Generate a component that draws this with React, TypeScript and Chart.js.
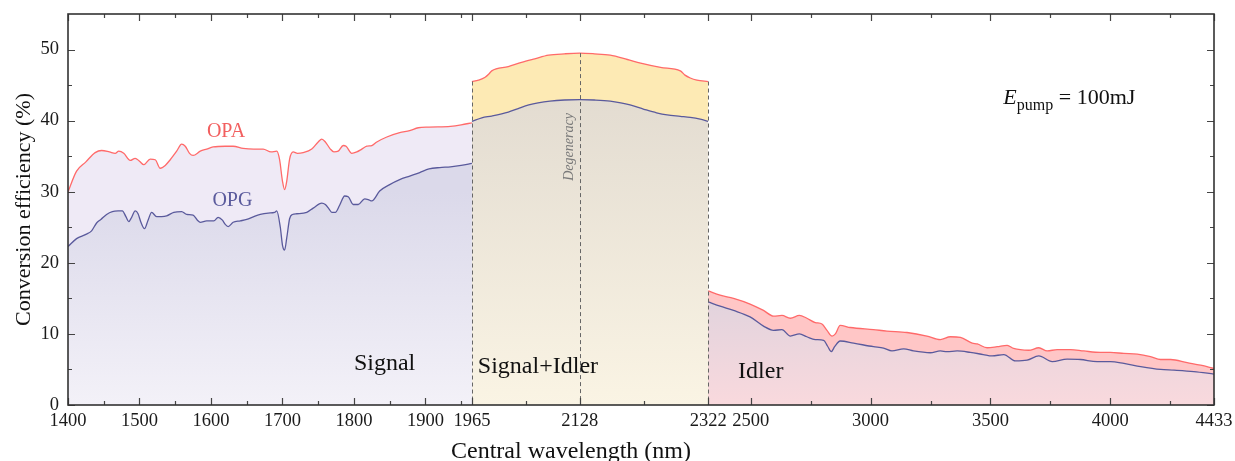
import React, { useEffect, useRef } from 'react';
import { Chart, registerables, LinearScale } from 'chart.js';

// ---------------- data ----------------
const OPA_SIGNAL_WL = [1400, 1412, 1425, 1438, 1447, 1458, 1466, 1471, 1478, 1487, 1494, 1500, 1506, 1515, 1522, 1529, 1536, 1543, 1552, 1559, 1564, 1570, 1575, 1585, 1594, 1603, 1620, 1631, 1645, 1660, 1673, 1684, 1692, 1696, 1700, 1703, 1706, 1710, 1715, 1721, 1729, 1741, 1750, 1755, 1760, 1767, 1772, 1778, 1785, 1789, 1797, 1804, 1811, 1818, 1825, 1832, 1846, 1864, 1878, 1890, 1905, 1935, 1950, 1965];
const OPA_SIGNAL = [30.0, 32.9, 34.2, 35.5, 35.8, 35.6, 35.4, 35.7, 35.4, 34.4, 34.7, 34.3, 33.8, 34.6, 34.5, 33.3, 33.7, 34.5, 35.7, 36.7, 36.4, 35.4, 35.1, 35.7, 36.0, 36.3, 36.4, 36.4, 36.1, 36.0, 36.0, 35.6, 35.7, 34.5, 31.5, 30.3, 31.5, 34.6, 35.6, 35.4, 35.5, 36.0, 37.0, 37.4, 37.0, 36.0, 35.6, 35.7, 36.5, 36.4, 35.4, 35.6, 36.0, 36.4, 36.5, 37.0, 37.7, 38.3, 38.6, 39.0, 39.1, 39.2, 39.4, 39.7];

const OPG_SIGNAL_WL = [1400, 1412, 1425, 1433, 1440, 1446, 1454, 1462, 1470, 1476, 1481, 1485, 1489, 1494, 1498, 1502, 1507, 1512, 1517, 1524, 1531, 1538, 1548, 1559, 1566, 1575, 1581, 1585, 1594, 1604, 1610, 1616, 1620, 1624, 1631, 1641, 1650, 1660, 1669, 1680, 1689, 1692, 1697, 1700, 1703, 1706, 1710, 1714, 1720, 1734, 1743, 1755, 1760, 1765, 1769, 1774, 1780, 1787, 1792, 1799, 1806, 1815, 1820, 1825, 1836, 1850, 1864, 1878, 1892, 1905, 1920, 1935, 1950, 1965];
const OPG_SIGNAL = [22.3, 23.4, 24.0, 24.5, 25.6, 26.1, 26.8, 27.2, 27.3, 27.3, 26.5, 25.8, 26.4, 27.3, 26.9, 25.7, 24.8, 26.0, 27.1, 26.5, 26.5, 26.6, 27.1, 27.2, 26.8, 26.7, 26.0, 25.7, 25.9, 25.9, 26.4, 26.0, 25.4, 25.1, 25.7, 25.9, 26.1, 26.5, 26.8, 27.0, 27.1, 27.3, 25.0, 22.5, 21.8, 23.5, 26.2, 26.8, 26.9, 27.1, 27.7, 28.4, 28.2, 27.6, 27.1, 27.1, 28.1, 29.4, 29.3, 28.2, 28.2, 29.0, 28.9, 28.7, 30.1, 31.0, 31.7, 32.2, 32.7, 33.2, 33.4, 33.5, 33.7, 34.0];

const OPA_MIDDLE_WL = [1965, 1975, 1985, 1991, 1995, 2020, 2040, 2060, 2081, 2105, 2128, 2150, 2174, 2200, 2220, 2250, 2280, 2287, 2295, 2305, 2322];
const OPA_MIDDLE = [45.5, 45.7, 46.1, 46.6, 47.0, 47.6, 48.2, 48.7, 49.2, 49.4, 49.5, 49.4, 49.2, 48.6, 48.1, 47.5, 47.0, 46.4, 46.0, 45.7, 45.5];

const OPG_MIDDLE_WL = [1965, 1980, 1995, 2020, 2035, 2051, 2065, 2083, 2105, 2128, 2150, 2174, 2190, 2204, 2225, 2244, 2260, 2280, 2295, 2310, 2322];
const OPG_MIDDLE = [39.9, 40.4, 40.65, 41.2, 41.7, 42.2, 42.5, 42.75, 42.9, 42.95, 42.9, 42.75, 42.5, 42.2, 41.6, 41.1, 40.8, 40.6, 40.45, 40.2, 39.9];

const OPA_IDLER_WL = [2322, 2372, 2428, 2497, 2553, 2595, 2630, 2665, 2703, 2734, 2769, 2797, 2818, 2839, 2853, 2873, 2915, 3012, 3068, 3152, 3235, 3291, 3333, 3375, 3424, 3445, 3486, 3528, 3570, 3597, 3660, 3702, 3737, 3779, 3834, 3890, 3959, 4001, 4057, 4113, 4168, 4210, 4252, 4321, 4377, 4433];
const OPA_IDLER = [16.05, 15.45, 15.0, 14.2, 13.3, 12.5, 12.6, 12.2, 12.6, 12.2, 11.6, 11.4, 10.5, 9.7, 10.0, 11.2, 10.9, 10.6, 10.4, 10.2, 9.7, 9.2, 9.6, 9.5, 8.7, 8.6, 8.05, 8.2, 8.4, 7.95, 7.7, 8.05, 7.6, 7.8, 7.8, 7.6, 7.4, 7.4, 7.25, 7.15, 6.8, 6.4, 6.4, 5.95, 5.6, 5.15];

const OPG_IDLER_WL = [2322, 2372, 2428, 2497, 2553, 2595, 2630, 2665, 2703, 2734, 2769, 2804, 2820, 2836, 2850, 2873, 2929, 3012, 3054, 3089, 3138, 3179, 3249, 3291, 3319, 3361, 3416, 3470, 3507, 3556, 3604, 3653, 3702, 3758, 3820, 3876, 3945, 4001, 4057, 4127, 4210, 4266, 4349, 4433];
const OPG_IDLER = [14.5, 13.9, 13.3, 12.4, 11.1, 10.5, 10.6, 9.7, 10.0, 9.6, 9.2, 9.1, 8.3, 7.5, 8.2, 9.0, 8.7, 8.2, 8.0, 7.6, 7.9, 7.6, 7.35, 7.6, 7.5, 7.6, 7.4, 7.1, 6.9, 7.1, 6.2, 6.3, 6.9, 6.1, 6.45, 6.4, 6.1, 6.1, 5.85, 5.4, 5.0, 4.9, 4.7, 4.35];

// axis ticks
const X_TICKS = [1400, 1500, 1600, 1700, 1800, 1900, 1965, 2128, 2322, 2500, 3000, 3500, 4000, 4433];
const X_MINOR_TICKS = [1450, 1550, 1650, 1750, 1850, 1950, 2046.5, 2225, 2750, 3250, 3750, 4250];
const Y_TICKS = [0, 10, 20, 30, 40, 50];
const Y_MINOR_TICKS = [5, 15, 25, 35, 45];
const REGION_DIVIDERS = [1965, 2128, 2322];

// axis segmentation (broken wavelength axis)
const AXIS_BREAKS = [1400, 1965, 2322, 4433];
const SEGMENT_LENGTHS = [404, 236.3, 506];

// ---------------- styling ----------------
const FONT = '"Liberation Serif", "Times New Roman", serif';
const OPA_COLOR = '#ff6a6a';
const OPG_COLOR = '#5a5a9c';

function toDecimal(v: number): number {
  const total = SEGMENT_LENGTHS.reduce((a, b) => a + b, 0);
  let acc = 0;
  const n = SEGMENT_LENGTHS.length;
  for (let i = 0; i < n; i++) {
    const a = AXIS_BREAKS[i];
    const b = AXIS_BREAKS[i + 1];
    if (v <= b || i === n - 1) return (acc + ((v - a) / (b - a)) * SEGMENT_LENGTHS[i]) / total;
    acc += SEGMENT_LENGTHS[i];
  }
  return 0;
}
function fromDecimal(d: number): number {
  const total = SEGMENT_LENGTHS.reduce((a, b) => a + b, 0);
  let pos = d * total;
  const n = SEGMENT_LENGTHS.length;
  for (let i = 0; i < n; i++) {
    const len = SEGMENT_LENGTHS[i];
    if (pos <= len || i === n - 1) return AXIS_BREAKS[i] + (pos / len) * (AXIS_BREAKS[i + 1] - AXIS_BREAKS[i]);
    pos -= len;
  }
  return AXIS_BREAKS[0];
}

class SegmentedScale extends LinearScale {
  static id = 'segmented';
  static defaults = {};
  getPixelForValue(value: number) {
    return this.getPixelForDecimal(toDecimal(value));
  }
  getValueForPixel(pixel: number) {
    return fromDecimal(this.getDecimalForPixel(pixel));
  }
}

Chart.register(...registerables, SegmentedScale as any);

function points(wl: number[], vals: number[]) {
  return wl.map((x, i) => ({ x, y: vals[i] }));
}

function interp(wl: number[], vals: number[], x: number) {
  for (let i = 0; i < wl.length - 1; i++) {
    if (x >= wl[i] && x <= wl[i + 1]) {
      const t = (x - wl[i]) / (wl[i + 1] - wl[i]);
      return vals[i] + t * (vals[i + 1] - vals[i]);
    }
  }
  return x < wl[0] ? vals[0] : vals[vals.length - 1];
}

function vGradient(topVal: number, topColor: string, bottomColor: string) {
  return (ctx: any) => {
    const chart = ctx.chart;
    const ys = chart.scales && chart.scales.y;
    if (!chart.chartArea || !ys) return bottomColor;
    const g = chart.ctx.createLinearGradient(0, ys.getPixelForValue(topVal), 0, ys.getPixelForValue(0));
    g.addColorStop(0, topColor);
    g.addColorStop(1, bottomColor);
    return g;
  };
}

function lineDs(label: string, data: any, color: string, fillColor: any, order: number) {
  return {
    label,
    data,
    borderColor: color,
    borderWidth: 1.3,
    backgroundColor: fillColor,
    fill: 'origin',
    pointRadius: 0,
    tension: 0.35,
    cubicInterpolationMode: 'monotone',
    order,
  };
}

const decorPlugin = {
  id: 'decor',
  afterDatasetsDraw(chart: any) {
    const { ctx } = chart;
    const xs = chart.scales.x;
    const ys = chart.scales.y;
    ctx.save();
    // region dividers
    ctx.strokeStyle = '#666';
    ctx.lineWidth = 1;
    ctx.setLineDash([4, 3]);
    REGION_DIVIDERS.forEach((wl) => {
      const top = interp(OPA_MIDDLE_WL, OPA_MIDDLE, wl);
      const px = Math.round(xs.getPixelForValue(wl)) + 0.5;
      ctx.beginPath();
      ctx.moveTo(px, ys.getPixelForValue(top));
      ctx.lineTo(px, ys.getPixelForValue(0));
      ctx.stroke();
    });
    ctx.setLineDash([]);

    // series labels
    ctx.textAlign = 'center';
    ctx.textBaseline = 'middle';
    ctx.font = `20px ${FONT}`;
    ctx.fillStyle = '#f25f5f';
    ctx.fillText('OPA', xs.getPixelForValue(1621), ys.getPixelForValue(38.5));
    ctx.fillStyle = OPG_COLOR;
    ctx.fillText('OPG', xs.getPixelForValue(1630), ys.getPixelForValue(28.8));

    // region labels
    ctx.textAlign = 'left';
    ctx.textBaseline = 'alphabetic';
    ctx.font = `24px ${FONT}`;
    ctx.fillStyle = '#111';
    ctx.fillText('Signal', xs.getPixelForValue(1800), ys.getPixelForValue(4.9));
    ctx.fillText('Signal+Idler', xs.getPixelForValue(1974), ys.getPixelForValue(4.5));
    ctx.fillText('Idler', xs.getPixelForValue(2447), ys.getPixelForValue(3.8));

    // Degeneracy
    ctx.save();
    ctx.translate(xs.getPixelForValue(2112), ys.getPixelForValue(36.3));
    ctx.rotate(-Math.PI / 2);
    ctx.font = `italic 14px ${FONT}`;
    ctx.fillStyle = '#7a7a7a';
    ctx.textAlign = 'center';
    ctx.textBaseline = 'middle';
    ctx.fillText('Degeneracy', 0, 0);
    ctx.restore();

    // E_pump annotation
    let ex = xs.getPixelForValue(3554);
    const ey = ys.getPixelForValue(42.4);
    ctx.fillStyle = '#111';
    ctx.textAlign = 'left';
    ctx.font = `italic 22px ${FONT}`;
    ctx.fillText('E', ex, ey);
    ex += ctx.measureText('E').width;
    ctx.font = `16px ${FONT}`;
    ctx.fillText('pump', ex, ey + 6);
    ex += ctx.measureText('pump').width;
    ctx.font = `22px ${FONT}`;
    ctx.fillText(' = 100mJ', ex, ey);
    ctx.restore();
  },
  afterDraw(chart: any) {
    const { ctx, chartArea: a } = chart;
    const xs = chart.scales.x;
    const ys = chart.scales.y;
    ctx.save();
    // ticks (inward)
    ctx.strokeStyle = '#444';
    ctx.lineWidth = 1.2;
    const major = 7;
    const minor = 4;
    const tickX = (v: number, len: number) => {
      const px = Math.round(xs.getPixelForValue(v)) + 0.5;
      ctx.beginPath();
      ctx.moveTo(px, a.bottom);
      ctx.lineTo(px, a.bottom - len);
      ctx.moveTo(px, a.top);
      ctx.lineTo(px, a.top + len);
      ctx.stroke();
    };
    const tickY = (v: number, len: number) => {
      const py = Math.round(ys.getPixelForValue(v)) + 0.5;
      ctx.beginPath();
      ctx.moveTo(a.left, py);
      ctx.lineTo(a.left + len, py);
      ctx.moveTo(a.right, py);
      ctx.lineTo(a.right - len, py);
      ctx.stroke();
    };
    X_TICKS.forEach((v) => tickX(v, major));
    X_MINOR_TICKS.forEach((v) => tickX(v, minor));
    Y_TICKS.forEach((v) => tickY(v, major));
    Y_MINOR_TICKS.forEach((v) => tickY(v, minor));

    // frame
    ctx.strokeStyle = '#333';
    ctx.lineWidth = 1.6;
    ctx.strokeRect(a.left, a.top, a.right - a.left, a.bottom - a.top);

    // axis titles
    ctx.fillStyle = '#111';
    ctx.font = `24px ${FONT}`;
    ctx.textAlign = 'center';
    ctx.textBaseline = 'alphabetic';
    ctx.fillText('Central wavelength (nm)', 571, 457.5);

    ctx.save();
    ctx.translate(30, (a.top + a.bottom) / 2);
    ctx.rotate(-Math.PI / 2);
    ctx.font = `22px ${FONT}`;
    ctx.fillText('Conversion efficiency (%)', 0, 0);
    ctx.restore();
    ctx.restore();
  },
};

export default function App() {
  const ref = useRef<HTMLCanvasElement>(null);
  useEffect(() => {
    if (!ref.current) return;
    const chart = new Chart(ref.current, {
      type: 'line',
      data: {
        datasets: [
          lineDs('OPG signal', points(OPG_SIGNAL_WL, OPG_SIGNAL), OPG_COLOR, vGradient(30, 'rgb(219,217,234)', 'rgb(243,241,248)'), 1),
          lineDs('OPA signal', points(OPA_SIGNAL_WL, OPA_SIGNAL), OPA_COLOR, 'rgb(239,234,246)', 2),
          lineDs('OPG middle', points(OPG_MIDDLE_WL, OPG_MIDDLE), OPG_COLOR, vGradient(43, 'rgb(227,220,209)', 'rgb(250,244,228)'), 1),
          lineDs('OPA middle', points(OPA_MIDDLE_WL, OPA_MIDDLE), OPA_COLOR, 'rgb(253,234,180)', 2),
          lineDs('OPG idler', points(OPG_IDLER_WL, OPG_IDLER), OPG_COLOR, vGradient(15, 'rgb(225,211,221)', 'rgb(249,217,221)'), 1),
          lineDs('OPA idler', points(OPA_IDLER_WL, OPA_IDLER), OPA_COLOR, 'rgb(255,198,198)', 2),
        ] as any,
      },
      options: {
        responsive: false,
        animation: false,
        devicePixelRatio: 1,
        layout: { padding: { top: 14, right: 21, bottom: 0, left: 0 } },
        plugins: { legend: { display: false }, tooltip: { enabled: false } },
        events: [],
        scales: {
          x: {
            type: 'segmented' as any,
            min: 1400,
            max: 4433,
            grid: { display: false, drawTicks: false },
            border: { display: false },
            afterBuildTicks: (s: any) => {
              s.ticks = X_TICKS.map((value) => ({ value }));
            },
            afterFit: (s: any) => {
              s.height = 56;
              s.paddingLeft = 0;
              s.paddingRight = 0;
            },
            ticks: {
              autoSkip: false,
              maxRotation: 0,
              minRotation: 0,
              padding: 5,
              color: '#1a1a1a',
              font: { family: FONT, size: 18.5 },
              callback: (v: any) => String(v),
            },
          },
          y: {
            type: 'linear',
            min: 0,
            max: 55,
            grid: { display: false, drawTicks: false },
            border: { display: false },
            afterBuildTicks: (s: any) => {
              s.ticks = Y_TICKS.map((value) => ({ value }));
            },
            afterFit: (s: any) => {
              s.width = 68;
              s.paddingTop = 0;
              s.paddingBottom = 0;
            },
            ticks: {
              padding: 9,
              color: '#1a1a1a',
              font: { family: FONT, size: 18.5 },
              callback: (v: any) => String(v),
            },
          },
        },
      } as any,
      plugins: [decorPlugin],
    });
    return () => chart.destroy();
  }, []);
  return (
    <div style={{ position: 'absolute', left: 0, top: 0, width: 1235, height: 461, background: '#fff' }}>
      <canvas ref={ref} width={1235} height={461} style={{ display: 'block', width: 1235, height: 461 }} />
    </div>
  );
}
